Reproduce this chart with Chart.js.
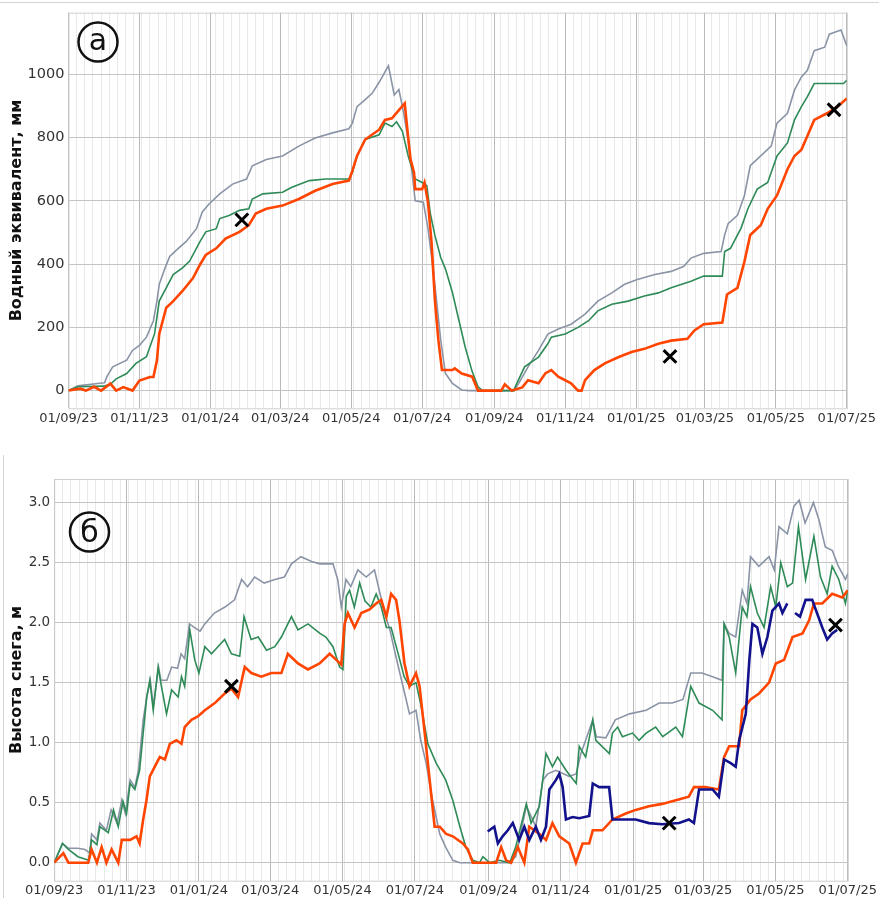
<!DOCTYPE html>
<html>
<head>
<meta charset="utf-8">
<script src="https://cdn.jsdelivr.net/npm/chart.js@4.4.1/dist/chart.umd.min.js"></script>
<style>
  html, body { margin: 0; background: #fff; }
  #wrap { position: relative; width: 879px; height: 898px; overflow: hidden; background: #fff; }
  #topChart { position: absolute; left: 0; top: 0; }
  #botChart { position: absolute; left: 0; top: 455px; }
  .rule { position: absolute; background: #d4d4d4; }
</style>
</head>
<body>
<div id="wrap">
  <div class="rule" style="left:0;top:2px;width:879px;height:1px"></div>
  <div class="rule" style="left:3px;top:455px;width:1px;height:443px"></div>
  <canvas id="topChart" width="879" height="440"></canvas>
  <canvas id="botChart" width="879" height="443"></canvas>
</div>
<script>
// x = days since 01/09/2023
const majorDays = [0, 61, 122, 182, 243, 304, 366, 427, 488, 547, 608, 669];
const tickLabels = ['01/09/23', '01/11/23', '01/01/24', '01/03/24', '01/05/24', '01/07/24',
  '01/09/24', '01/11/24', '01/01/25', '01/03/25', '01/05/25', '01/07/25'];

// (а) водный эквивалент, мм
const sweTicks = [0, 200, 400, 600, 800, 1000];
const sweGray = [[0,0],[8,15],[27,23],[31,25],[33,44],[38,75],[50,96],[55,127],[61,143],[67,169],[73,221],[76,283],[78,336],[83,388],[87,424],[93,445],[101,471],[110,512],[115,565],[121,591],[130,622],[141,653],[153,669],[158,711],[170,731],[184,742],[198,773],[212,799],[227,815],[241,828],[244,846],[248,898],[255,920],[261,940],[267,975],[275,1027],[280,935],[284,952],[288,880],[292,790],[295,700],[298,600],[305,596],[309,513],[314,367],[317,262],[320,158],[324,54],[330,23],[338,2],[344,0],[383,0],[387,23],[395,75],[404,127],[412,179],[421,195],[432,210],[444,242],[455,283],[467,309],[478,336],[489,351],[504,367],[518,377],[529,393],[535,419],[546,434],[561,440],[564,492],[567,528],[575,554],[581,617],[586,711],[595,742],[604,773],[609,846],[618,877],[624,950],[630,992],[635,1012],[641,1075],[650,1086],[654,1127],[664,1140],[669,1090]];
const sweGreen = [[0,0],[8,12],[30,14],[36,20],[41,37],[50,54],[58,86],[67,107],[74,180],[78,283],[84,325],[90,367],[98,388],[104,409],[113,471],[118,502],[127,512],[130,544],[138,554],[147,570],[155,575],[158,606],[167,622],[184,627],[192,643],[207,664],[221,669],[241,669],[244,690],[248,742],[255,794],[267,809],[272,846],[278,835],[282,850],[287,820],[292,742],[298,669],[304,658],[308,648],[311,560],[315,490],[320,420],[324,385],[330,310],[335,231],[341,137],[347,60],[352,12],[356,0],[383,0],[384,12],[392,75],[404,106],[412,148],[415,169],[427,179],[438,200],[447,221],[455,252],[467,273],[481,283],[495,299],[507,309],[518,325],[535,346],[546,362],[562,362],[564,440],[569,450],[578,513],[584,575],[592,637],[601,658],[609,742],[618,783],[624,856],[630,898],[635,929],[641,971],[666,971],[669,981]];
const sweOrange = [[0,0],[10,6],[15,0],[22,12],[28,0],[36,22],[41,0],[47,11],[55,0],[61,32],[70,43],[73,43],[76,95],[78,179],[84,262],[90,283],[98,315],[107,356],[113,398],[118,429],[127,450],[135,481],[147,502],[155,523],[161,560],[170,575],[184,585],[198,606],[212,632],[227,653],[241,664],[244,695],[248,742],[255,794],[267,825],[272,856],[278,861],[284,887],[289,908],[292,800],[294,731],[297,690],[298,637],[304,637],[306,658],[309,596],[312,471],[315,283],[318,158],[321,65],[330,65],[332,70],[338,54],[347,44],[352,0],[372,0],[375,20],[381,0],[390,10],[395,33],[404,23],[410,55],[415,65],[421,44],[432,23],[438,0],[441,0],[444,33],[452,65],[461,86],[473,106],[484,122],[495,132],[507,148],[518,158],[532,164],[538,190],[546,210],[562,215],[566,304],[575,325],[581,408],[586,492],[595,523],[601,575],[609,617],[618,700],[624,742],[630,762],[635,804],[641,856],[652,877],[661,898],[669,924]];
const sweObs = [[149,540],[517,108],[658,888]];

// (б) высота снега, м
const hsTicks = [0, 0.5, 1.0, 1.5, 2.0, 2.5, 3.0];
const hsGray = [[0,0],[7,0.16],[12,0.12],[20,0.12],[26,0.11],[30,0.08],[31.5,0.24],[36,0.19],[38.5,0.33],[44,0.27],[48,0.44],[53,0.33],[57,0.52],[60,0.41],[64,0.69],[68,0.63],[71,0.77],[75,1.19],[78,1.38],[81,1.52],[83.5,1.30],[88,1.63],[90,1.52],[95,1.52],[99,1.63],[104,1.62],[107,1.74],[110,1.70],[114,1.99],[118,1.96],[123,1.93],[127,1.99],[135,2.08],[144,2.13],[152,2.19],[158,2.36],[163,2.30],[169,2.38],[177,2.33],[186,2.36],[194,2.38],[200,2.49],[208,2.55],[217,2.51],[224,2.49],[235,2.49],[239,2.36],[242,2.13],[246,2.36],[250,2.30],[256,2.44],[263,2.38],[270,2.44],[274,2.27],[278.5,2.08],[283,1.94],[288,1.72],[294,1.47],[299.5,1.24],[305,1.27],[309,1.02],[313.5,0.83],[319,0.52],[325,0.24],[330,0.13],[336,0.02],[342,0],[383,0],[389,0.05],[398,0.47],[406,0.30],[412,0.69],[416,0.74],[423,0.77],[434,0.72],[440,0.74],[444,0.91],[448,1.02],[454,1.19],[457,1.05],[465,1.04],[473,1.19],[485,1.24],[499,1.27],[510,1.33],[521,1.33],[530,1.36],[536.6,1.58],[546,1.58],[555,1.55],[563,1.52],[564.7,1.99],[569,1.91],[574.5,1.88],[580,2.27],[584,2.16],[587,2.55],[594,2.47],[602.6,2.55],[607,2.44],[611,2.80],[618,2.74],[623.6,2.97],[628,3.02],[633,2.83],[640,3.0],[644.6,2.86],[650,2.63],[656,2.60],[661,2.47],[667,2.36],[669,2.41]];
const hsGreen = [[0,0],[7,0.16],[12,0.11],[20,0.05],[29,0.02],[31.5,0.19],[36,0.15],[38.5,0.30],[45.6,0.25],[50,0.44],[54,0.30],[58,0.51],[61,0.41],[64,0.66],[68,0.61],[72,0.77],[75,1.08],[78,1.38],[80.6,1.52],[83.5,1.27],[87.6,1.63],[90.4,1.47],[94.7,1.24],[99,1.44],[104.5,1.38],[107.3,1.55],[110,1.47],[114.3,1.94],[118.5,1.69],[122,1.58],[127,1.80],[132.6,1.74],[138,1.80],[143.7,1.86],[149.4,1.74],[156.4,1.72],[160,2.05],[166,1.86],[172,1.88],[179,1.77],[186,1.80],[191.5,1.88],[200,2.05],[205.5,1.94],[214,1.99],[224,1.91],[229,1.88],[235,1.80],[240.6,1.63],[243.4,1.61],[246.2,2.22],[249,2.27],[253,2.13],[257.5,2.33],[262,2.18],[267,2.13],[271.4,2.24],[275.7,2.13],[280,1.96],[284,1.96],[290,1.74],[295,1.55],[299.5,1.47],[305,1.50],[309.4,1.30],[315,0.99],[322,0.83],[330,0.69],[336,0.52],[342,0.30],[347,0.13],[353,0.02],[358.6,0],[361.4,0.05],[367,0],[375,0.02],[384,0],[389,0.13],[398,0.49],[402,0.33],[409,0.47],[414.6,0.91],[420,0.80],[424.4,0.88],[431.4,0.77],[440,0.66],[442.6,0.97],[448,0.88],[454,1.19],[456.6,1.02],[468,0.91],[470.6,1.08],[475,1.13],[479,1.05],[487.5,1.08],[493,1.02],[499,1.08],[507,1.13],[513,1.05],[524,1.13],[529.6,1.05],[536.6,1.47],[543.6,1.33],[555,1.27],[563,1.19],[564.7,1.99],[569,1.88],[574.5,1.58],[580,2.13],[584,2.05],[587,2.30],[592.7,2.08],[598.4,1.96],[604,2.30],[608.3,2.13],[612.5,2.50],[618,2.30],[622.4,2.33],[627.4,2.80],[633.4,2.36],[640.4,2.72],[646,2.38],[651.6,2.24],[655.8,2.47],[661.4,2.36],[667,2.16],[669,2.27]];
const hsOrange = [[0,0],[7.7,0.08],[12,0],[28.7,0],[31.5,0.11],[36,0],[40,0.13],[44,0],[48.4,0.11],[54,0],[57,0.19],[64,0.19],[69.4,0.22],[72,0.16],[75,0.36],[77.8,0.52],[80.6,0.72],[84.8,0.80],[89,0.88],[93.3,0.86],[97.5,0.99],[103,1.02],[107.3,0.99],[110,1.13],[115.7,1.19],[121.3,1.22],[127,1.27],[135.4,1.33],[143.7,1.41],[149.4,1.45],[155,1.38],[160.6,1.63],[166.2,1.58],[174.6,1.55],[183,1.58],[191.5,1.58],[197,1.74],[205.5,1.66],[213.9,1.61],[223.7,1.66],[232.2,1.74],[237.8,1.69],[242,1.65],[244.8,1.99],[247.6,2.08],[253.2,1.96],[258.9,2.08],[265.9,2.11],[271.4,2.16],[275.7,2.19],[280,2.05],[284,2.24],[288.2,2.19],[291,2.02],[295.3,1.66],[299.5,1.47],[305,1.58],[308,1.47],[312,1.11],[316.5,0.69],[320.7,0.30],[325,0.30],[330.4,0.24],[336,0.22],[344.5,0.16],[348.7,0.11],[352.9,0],[372.6,0],[376.8,0.13],[381,0.02],[385.2,0],[390.8,0.13],[396.3,0],[400.5,0.30],[409,0.24],[414.6,0.19],[420,0.33],[425.8,0.22],[434.2,0.16],[439.8,0],[445.4,0.16],[451,0.16],[454,0.27],[462.2,0.27],[470.6,0.36],[481.8,0.41],[490.2,0.44],[501.4,0.47],[512.6,0.49],[524,0.52],[535,0.55],[539.3,0.63],[549,0.63],[560.3,0.61],[564.7,0.88],[569,0.97],[577.4,0.97],[580,1.27],[587,1.36],[594.2,1.41],[602.6,1.50],[608.3,1.66],[615.3,1.69],[622.4,1.88],[630.8,1.91],[636.4,2.02],[640.4,2.16],[647.5,2.16],[655.8,2.24],[664.3,2.21],[669,2.27]];
const hsNavy = [[365.4,0.26],[371,0.30],[374,0.16],[378,0.22],[382.4,0.27],[386.6,0.33],[392,0.19],[396.3,0.30],[400.5,0.19],[406,0.30],[410.3,0.19],[414.6,0.30],[417.4,0.61],[423,0.69],[425.8,0.74],[428.6,0.63],[431.4,0.36],[437,0.38],[442.6,0.37],[451,0.39],[454,0.66],[459.4,0.63],[467.8,0.63],[470.6,0.36],[479,0.36],[490.2,0.36],[501.4,0.33],[512.6,0.32],[526.8,0.33],[535,0.36],[539.3,0.33],[543.6,0.61],[555,0.61],[560.3,0.55],[564.7,0.86],[570.3,0.83],[574.5,0.80],[577.4,1.02],[583,1.24],[586,1.69],[588.6,1.99],[592.7,1.96],[597,1.74],[601.2,1.88],[605.4,2.10],[611,2.16],[613.9,2.08],[618,2.16],[621,null],[624.5,2.08],[628.7,2.05],[633.4,2.19],[639,2.19],[643,2.08],[647.5,1.96],[651.6,1.86],[655.8,1.91],[660,1.94]];
const hsObs = [[149.4,1.47],[518.4,0.33],[658.6,1.98]];

const FONT = 'DejaVu Sans';
const pts = arr => arr.map(p => ({ x: p[0], y: p[1] }));

// weekly minor grid + the 2-month majors
const xTicks = majorDays.slice();
for (let d = 7; d < 669; d += 7) {
  if (!majorDays.some(m => Math.abs(m - d) < 2)) xTicks.push(d);
}
xTicks.sort((a, b) => a - b);

const framePlugin = {
  id: 'frame',
  beforeDatasetsDraw(chart) {
    const { ctx, chartArea: a } = chart;
    ctx.save();
    ctx.strokeStyle = '#cfcfcf';
    ctx.lineWidth = 1;
    ctx.strokeRect(a.left + 0.5, a.top + 0.5, a.right - a.left, a.bottom - a.top);
    ctx.restore();
  }
};

const badgePlugin = {
  id: 'badge',
  afterDraw(chart, args, opts) {
    const ctx = chart.ctx;
    ctx.save();
    ctx.beginPath();
    ctx.arc(opts.x, opts.y, 19.5, 0, Math.PI * 2);
    ctx.strokeStyle = '#111';
    ctx.lineWidth = 2.5;
    ctx.stroke();
    ctx.fillStyle = '#111';
    ctx.font = '30px ' + FONT;
    ctx.textAlign = 'center';
    ctx.textBaseline = 'alphabetic';
    ctx.fillText(opts.text, opts.x, opts.baseline);
    ctx.restore();
  }
};

function makeChart(id, cfg) {
  const line = (data, color, width, order) => ({
    data: pts(data), borderColor: color, borderWidth: width, pointRadius: 0,
    fill: false, tension: 0, spanGaps: false, order: order
  });
  const datasets = [
    {
      data: pts(cfg.obs), showLine: false, pointStyle: 'crossRot', pointRadius: 9,
      pointBorderWidth: 3, pointBorderColor: '#000', borderColor: '#000', order: 0
    }
  ];
  if (cfg.navy) datasets.push(line(cfg.navy, '#12128c', 2.6, 1));
  datasets.push(line(cfg.orange, '#ff4500', 2.6, 2));
  datasets.push(line(cfg.green, '#2e8b57', 1.6, 3));
  datasets.push(line(cfg.gray, '#8a94a6', 1.6, 4));

  return new Chart(document.getElementById(id), {
    type: 'line',
    data: { datasets },
    plugins: [framePlugin, badgePlugin],
    options: {
      responsive: false,
      animation: false,
      events: [],
      layout: { padding: { top: cfg.padTop, right: cfg.padRight, left: 0, bottom: 0 } },
      plugins: {
        legend: { display: false },
        tooltip: { enabled: false },
        badge: cfg.badge
      },
      scales: {
        x: {
          type: 'linear', min: 0, max: 669,
          afterBuildTicks: s => { s.ticks = xTicks.map(v => ({ value: v })); },
          afterFit: s => { s.height = cfg.xHeight; },
          ticks: {
            autoSkip: false, maxRotation: 0, padding: cfg.xPad, color: '#333',
            font: { family: FONT, size: 13 },
            callback: v => { const i = majorDays.indexOf(v); return i >= 0 ? tickLabels[i] : ''; }
          },
          grid: {
            drawTicks: false, lineWidth: 1,
            color: c => majorDays.includes(c.tick.value) ? '#b9b9b9' : '#e9e9e9'
          },
          border: { display: false }
        },
        y: {
          type: 'linear', min: cfg.yMin, max: cfg.yMax,
          afterBuildTicks: s => { s.ticks = cfg.yTicks.map(v => ({ value: v })); },
          afterFit: s => { s.width = cfg.yWidth; },
          ticks: {
            padding: 4, color: '#333',
            font: { family: FONT, size: cfg.yFont },
            callback: cfg.yFmt
          },
          grid: { drawTicks: false, color: '#c4c4c4', lineWidth: 1 },
          border: { display: false },
          title: {
            display: true, text: cfg.title, color: '#111',
            font: { family: FONT, size: 16, weight: 'bold' },
            padding: { top: 7.4, bottom: 0 }
          }
        }
      }
    }
  });
}

makeChart('topChart', {
  gray: sweGray, green: sweGreen, orange: sweOrange, obs: sweObs,
  yMin: -56, yMax: 1195, yTicks: sweTicks, yFmt: v => String(v), yFont: 14.5,
  title: 'Водный эквивалент, мм', yWidth: 68.5, padTop: 8.3, padRight: 29,
  xHeight: 31.7, xPad: 3,
  badge: { x: 98, y: 42, baseline: 50, text: 'а' }
});

makeChart('botChart', {
  gray: hsGray, green: hsGreen, orange: hsOrange, navy: hsNavy, obs: hsObs,
  yMin: -0.15, yMax: 3.197, yTicks: hsTicks, yFmt: v => v.toFixed(1), yFont: 13.5,
  title: 'Высота снега, м', yWidth: 54.2, padTop: 24, padRight: 30,
  xHeight: 17.3, xPad: 2,
  badge: { x: 89.5, y: 77, baseline: 86.7, text: 'б' }
});
</script>
</body>
</html>
